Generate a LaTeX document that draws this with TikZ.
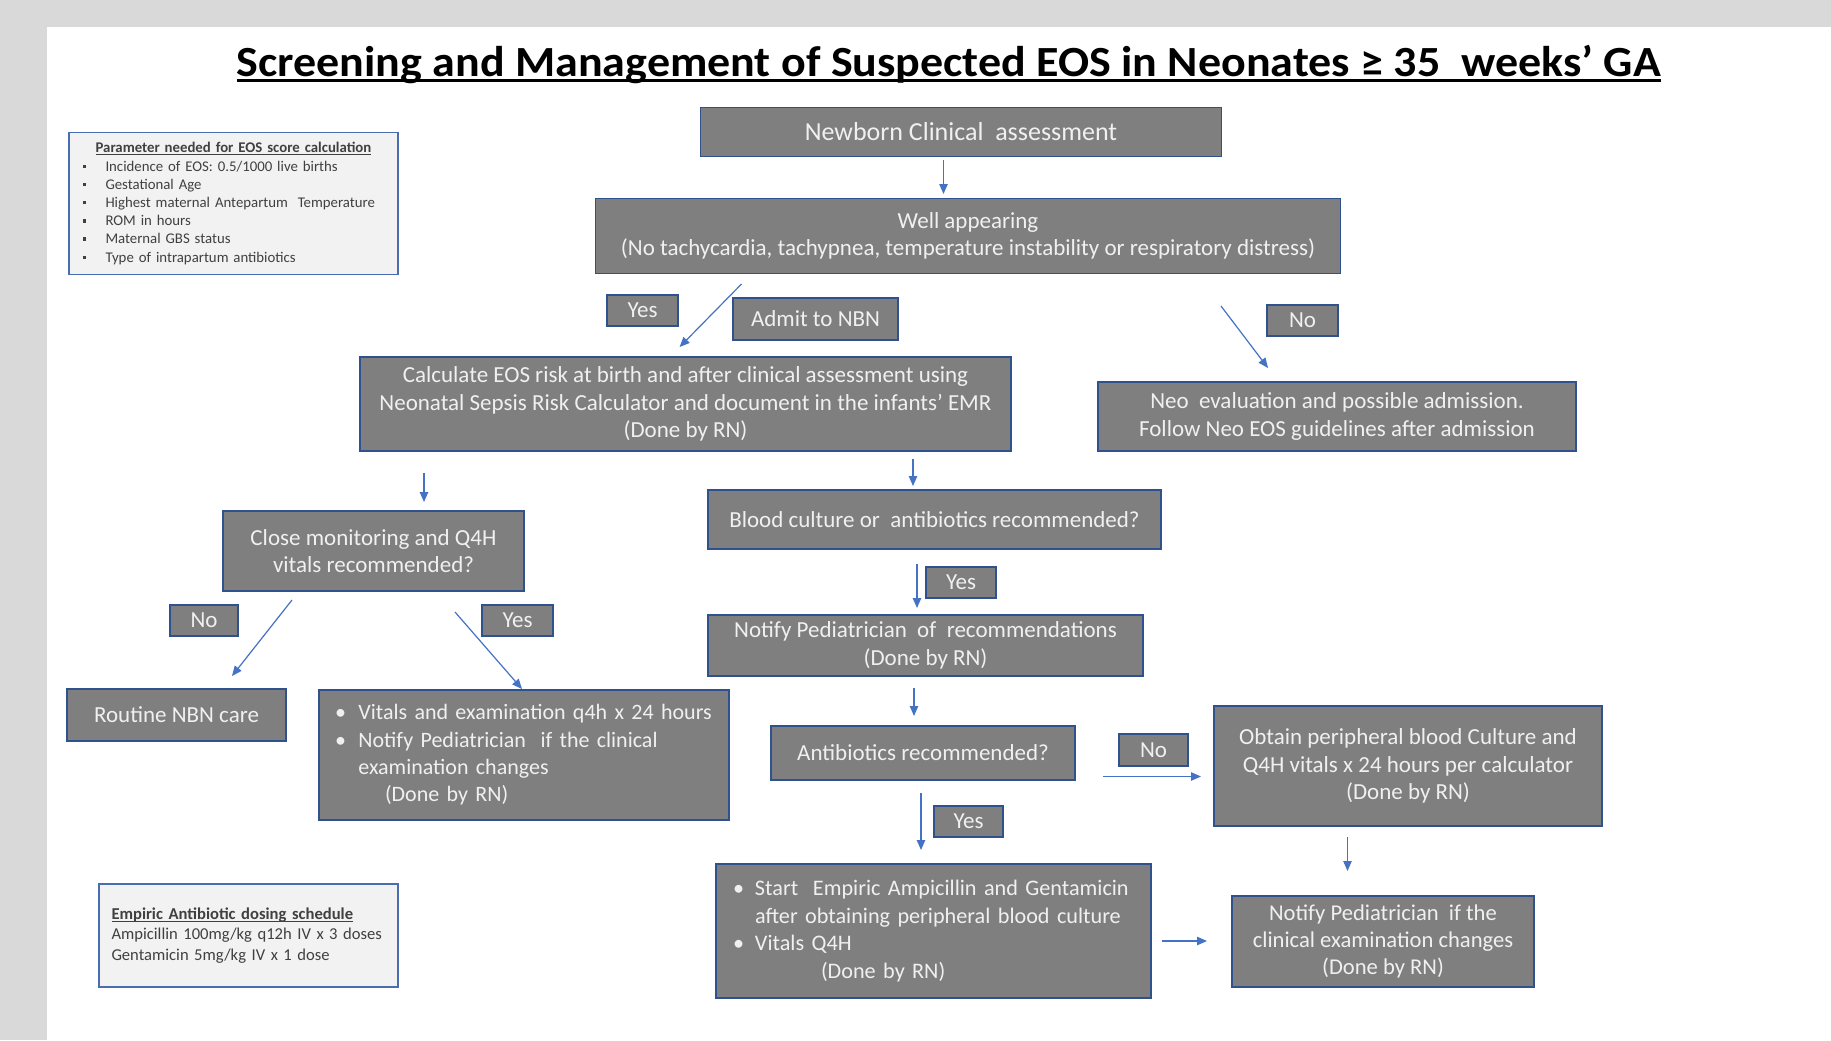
\documentclass[tikz,border=0pt]{standalone}
\usepackage{fontspec}
\setmainfont{Carlito}
\usetikzlibrary{arrows.meta}
\newcommand\ulx[3]{\leavevmode\setbox0\hbox{#3}\rlap{\rule[-#1]{\wd0}{#2}}\box0}
\newcommand\sqb{\raisebox{1.6pt}{\rule{1.7pt}{1.7pt}}}
\definecolor{pagegray}{HTML}{D9D9D9}
\definecolor{boxgray}{HTML}{7F7F7F}
\definecolor{boxborder}{HTML}{2F528F}
\definecolor{boxtext}{HTML}{F0F0F0}
\definecolor{infofill}{HTML}{F2F2F2}
\definecolor{infoborder}{HTML}{4A6DB0}
\definecolor{infotext}{HTML}{404040}
\definecolor{arrowblue}{HTML}{4472C4}
\begin{document}
\begin{tikzpicture}[x=0.5pt,y=-0.5pt,
  gbox/.style={draw=boxborder, line width=0.8pt, fill=boxgray, text=boxtext,
    inner sep=0pt, align=center, font=\fontsize{11.5}{13.7}\selectfont},
  lbox/.style={gbox, align=left, anchor=center, font=\fontsize{11.1}{13.7}\selectfont},
  infobox/.style={draw=infoborder, line width=0.9pt, fill=infofill, text=infotext,
    inner sep=0pt, align=left},
  flow/.style={draw=arrowblue, line width=0.6pt, -{Triangle[length=5pt,width=4.2pt]}}
]
\useasboundingbox (0,0) rectangle (1831,1040);
\fill[pagegray] (0,0) rectangle (1831,1040);
\fill[white] (47,27) rectangle (1831,1040);

% title
\node[font=\bfseries\fontsize{21.5}{25}\selectfont, inner sep=0pt, xscale=1.07] (title) at (948.8,64)
  {\ulx{3.2pt}{1.8pt}{Screening and Management of Suspected EOS in Neonates ≥ 35\ \ weeks’ GA}};

% info boxes
\node[infobox, minimum width=164.5pt, minimum height=71pt, text width=151pt,
  font=\fontsize{7.4}{9.1}\selectfont] (param) at (233.5,203.5)
  {\hfill\textbf{\ulx{1.2pt}{0.45pt}{Parameter needed for EOS score calculation}}\hfill\null\\
   \makebox[11.5pt][l]{\sqb}Incidence of EOS: 0.5/1000 live births\\
   \makebox[11.5pt][l]{\sqb}Gestational Age\\
   \makebox[11.5pt][l]{\sqb}Highest maternal Antepartum\ \ Temperature\\
   \makebox[11.5pt][l]{\sqb}ROM in hours\\
   \makebox[11.5pt][l]{\sqb}Maternal GBS status\\
   \makebox[11.5pt][l]{\sqb}Type of intrapartum antibiotics};

\node[infobox, minimum width=149.5pt, minimum height=51.5pt, text width=137pt, inner xsep=6.25pt,
  font=\fontsize{8.3}{10.2}\selectfont] (emp) at (248.5,935.5)
  {\textbf{\ulx{1.3pt}{0.5pt}{Empiric Antibiotic dosing schedule}}\\
   Ampicillin 100mg/kg q12h IV x 3 doses\\
   Gentamicin 5mg/kg IV x 1 dose};

% main boxes
\node[gbox, minimum width=260.5pt, minimum height=24.5pt, font=\fontsize{13}{15}\selectfont] (n1) at (961,132)
  {Newborn Clinical\ \ assessment};
\node[gbox, minimum width=372.5pt, minimum height=37.5pt] (n2) at (968,236)
  {Well appearing\\(No tachycardia, tachypnea, temperature instability or respiratory distress)};
\node[gbox, minimum width=35.5pt, minimum height=15.5pt] (yes1) at (642.5,310.5) {Yes};
\node[gbox, minimum width=82.5pt, minimum height=21pt, font=\fontsize{11.5}{14}\selectfont] (admit) at (815.5,319) {Admit to NBN};
\node[gbox, minimum width=35.5pt, minimum height=15.5pt] (no1) at (1302.5,320.5) {No};
\node[gbox, minimum width=325.5pt, minimum height=47pt] (calc) at (685.5,404)
  {Calculate EOS risk at birth and after clinical assessment using\\
   Neonatal Sepsis Risk Calculator and document in the infants’ EMR\\(Done by RN)};
\node[gbox, minimum width=239pt, minimum height=34.5pt] (neo) at (1337,416.5)
  {Neo\ \ evaluation and possible admission.\\Follow Neo EOS guidelines after admission};
\node[gbox, minimum width=226.5pt, minimum height=29.5pt] (blood) at (934.5,519.5)
  {Blood culture or\ \ antibiotics recommended?};
\node[gbox, minimum width=150.5pt, minimum height=40pt] (close) at (373.5,551)
  {Close monitoring and Q4H\\vitals recommended?};
\node[gbox, minimum width=35pt, minimum height=15.5pt] (yes2) at (961,582.5) {Yes};
\node[gbox, minimum width=34pt, minimum height=15.5pt] (no2) at (204,620.5) {No};
\node[gbox, minimum width=35.5pt, minimum height=15.5pt] (yes3) at (517.5,620.5) {Yes};
\node[gbox, minimum width=217.5pt, minimum height=30.5pt] (notify1) at (925.5,645.5)
  {Notify Pediatrician\ \ of\ \ recommendations\\(Done by RN)};
\node[gbox, minimum width=109.5pt, minimum height=26pt] (routine) at (176.5,715) {Routine NBN care};
\node[lbox, text width=189pt, inner xsep=8pt, minimum height=65pt, font=\fontsize{11}{13.7}\selectfont] (vitals) at (524,755)
  {\mbox{\makebox[11.7pt][l]{\textbullet}Vitals and examination q4h x 24 hours}\\
   \mbox{\makebox[11.7pt][l]{\textbullet}Notify Pediatrician\ \ if the clinical}\\
   \mbox{\hspace*{11.7pt}examination changes}\\
   \mbox{\hspace*{25pt}(Done by RN)}};
\node[gbox, minimum width=152pt, minimum height=27pt] (anti) at (923,753) {Antibiotics recommended?};
\node[gbox, minimum width=34.5pt, minimum height=16pt] (no3) at (1153.5,750) {No};
\node[gbox, minimum width=194pt, minimum height=60pt] (obtain) at (1408,766)
  {Obtain peripheral blood Culture and\\Q4H vitals x 24 hours per calculator\\(Done by RN)};
\node[gbox, minimum width=34.5pt, minimum height=15.5pt] (yes4) at (968.5,821.5) {Yes};
\node[lbox, text width=200.5pt, inner xsep=8.5pt, minimum height=67pt] (start) at (933.5,931)
  {\mbox{\makebox[11pt][l]{\textbullet}Start\ \ Empiric Ampicillin and Gentamicin}\\
   \mbox{\hspace*{11pt}after obtaining peripheral blood culture}\\
   \mbox{\makebox[11pt][l]{\textbullet}Vitals Q4H}\\
   \mbox{\hspace*{44pt}(Done by RN)}};
\node[gbox, minimum width=151pt, minimum height=45.5pt, font=\fontsize{11.3}{13.7}\selectfont] (notify2) at (1383,941.5)
  {Notify Pediatrician\ \ if the\\clinical examination changes\\(Done by RN)};

% connector end points
\coordinate (a1s) at (943.5,160);  \coordinate (a1e) at (943.5,194);
\coordinate (a2s) at (741.5,284);  \coordinate (a2e) at (679.6,347);
\coordinate (a3s) at (1221,306);   \coordinate (a3e) at (1268,368);
\coordinate (a4s) at (424,473);    \coordinate (a4e) at (424,502);
\coordinate (a5s) at (913,459);    \coordinate (a5e) at (913,486);
\coordinate (a6s) at (917,564);    \coordinate (a6e) at (917,608);
\coordinate (a7s) at (292,600);    \coordinate (a7e) at (232,676);
\coordinate (a8s) at (455,612);    \coordinate (a8e) at (522,689);
\coordinate (a9s) at (914,688);    \coordinate (a9e) at (914,716);
\coordinate (a10s) at (1103,776.5); \coordinate (a10e) at (1201,776.5);
\coordinate (a11s) at (921,793);   \coordinate (a11e) at (921,850);
\coordinate (a12s) at (1347.5,837); \coordinate (a12e) at (1347.5,871);
\coordinate (a13s) at (1162,941);  \coordinate (a13e) at (1207,941);

\draw[flow] (a1s) -- (a1e);
\draw[flow] (a2s) -- (a2e);
\draw[flow] (a3s) -- (a3e);
\draw[flow] (a4s) -- (a4e);
\draw[flow] (a5s) -- (a5e);
\draw[flow] (a6s) -- (a6e);
\draw[flow] (a7s) -- (a7e);
\draw[flow] (a8s) -- (a8e);
\draw[flow] (a9s) -- (a9e);
\draw[flow] (a10s) -- (a10e);
\draw[flow] (a11s) -- (a11e);
\draw[flow] (a12s) -- (a12e);
\draw[flow] (a13s) -- (a13e);
\end{tikzpicture}
\end{document}
